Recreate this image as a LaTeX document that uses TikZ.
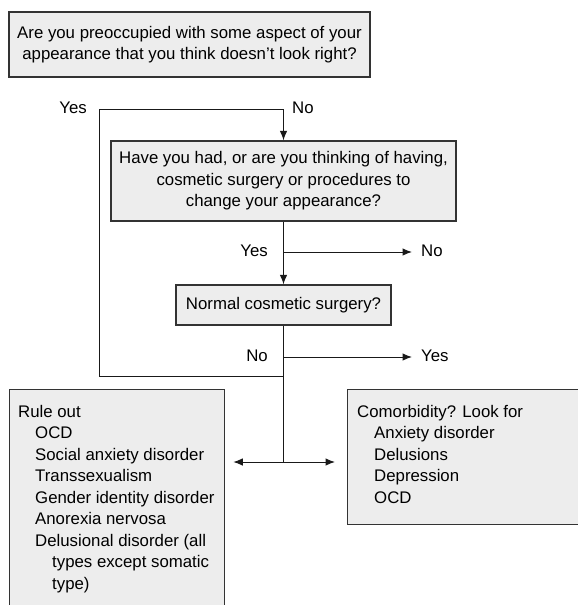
\documentclass[tikz,border=0pt]{standalone}
\usepackage{fontspec}
\setmainfont{Liberation Sans}
\usetikzlibrary{arrows.meta}
\begin{document}
\begin{tikzpicture}[x=1pt,y=-1pt,
  box/.style={draw=black!80,fill=black!7,line width=1.3pt,inner sep=0pt,align=center},
  lbl/.style={inner sep=0pt},
  link/.style={draw=black!90,line width=1pt},
  arr/.style={link,-{Latex[length=9.5pt,width=7.5pt]}},
  font=\fontsize{16.8}{21.5}\selectfont]
\useasboundingbox (0,0) rectangle (578,605);
\clip (0,0) rectangle (578,605);

\node[box,minimum width=361pt,minimum height=65pt] (q1) at (189.5,44.5)
  {Are you preoccupied with some aspect of your\\appearance that you think doesn’t look right?};
\node[box,minimum width=345pt,minimum height=80pt] (q2) at (283.5,181)
  {Have you had, or are you thinking of having,\\cosmetic surgery or procedures to\\change your appearance?};
\node[box,minimum width=215pt,minimum height=40pt] (q3) at (283.5,305) {Normal cosmetic surgery?};

\node[box,anchor=north west,minimum width=215pt,minimum height=260pt] (ruleout) at (9,389) {};
\node[lbl,anchor=north west,align=left] (ruletxt) at ([shift={(9,16)}]ruleout.north west)
  {Rule out\\
   \hspace*{17pt}OCD\\
   \hspace*{17pt}Social anxiety disorder\\
   \hspace*{17pt}Transsexualism\\
   \hspace*{17pt}Gender identity disorder\\
   \hspace*{17pt}Anorexia nervosa\\
   \hspace*{17pt}Delusional disorder (all\\
   \hspace*{34pt}types except somatic\\
   \hspace*{34pt}type)};

\node[box,anchor=north west,minimum width=260pt,minimum height=135pt] (comorb) at (347,389) {};
\node[lbl,anchor=north west,align=left] (comtxt) at ([shift={(10,16)}]comorb.north west)
  {Comorbidity? Look for\\
   \hspace*{17pt}Anxiety disorder\\
   \hspace*{17pt}Delusions\\
   \hspace*{17pt}Depression\\
   \hspace*{17pt}OCD};

\node[lbl,anchor=east] (yes1) at (87,108) {Yes};
\node[lbl,anchor=west] (no1) at (292,108) {No};
\node[lbl,anchor=east] (yes2) at (268,251) {Yes};
\node[lbl,anchor=west] (no2) at (421,251) {No};
\node[lbl,anchor=east] (no3) at (268,356) {No};
\node[lbl,anchor=west] (yes3) at (421,356) {Yes};

\coordinate (loopT) at (99,109);
\coordinate (loopB) at (99,376);
\coordinate (br1) at (283.5,252);
\coordinate (br2) at (283.5,357);
\coordinate (split) at (283.5,462);

\draw[arr] (loopB) -- (loopT) -- (loopT -| q2.north) -- (q2.north);
\draw[arr] (q2) -- (q3);
\draw[arr,shorten >=9pt] (br1) -- (br1 -| no2.west);
\draw[link] (q3) -- (split);
\draw[arr,shorten >=9pt] (br2) -- (br2 -| yes3.west);
\draw[link] (loopB) -- (loopB -| q3.south);
\draw[arr,shorten >=8pt] (split) -- (split -| ruleout.east);
\draw[arr,shorten >=12pt] (split) -- (split -| comorb.west);

\end{tikzpicture}
\end{document}
